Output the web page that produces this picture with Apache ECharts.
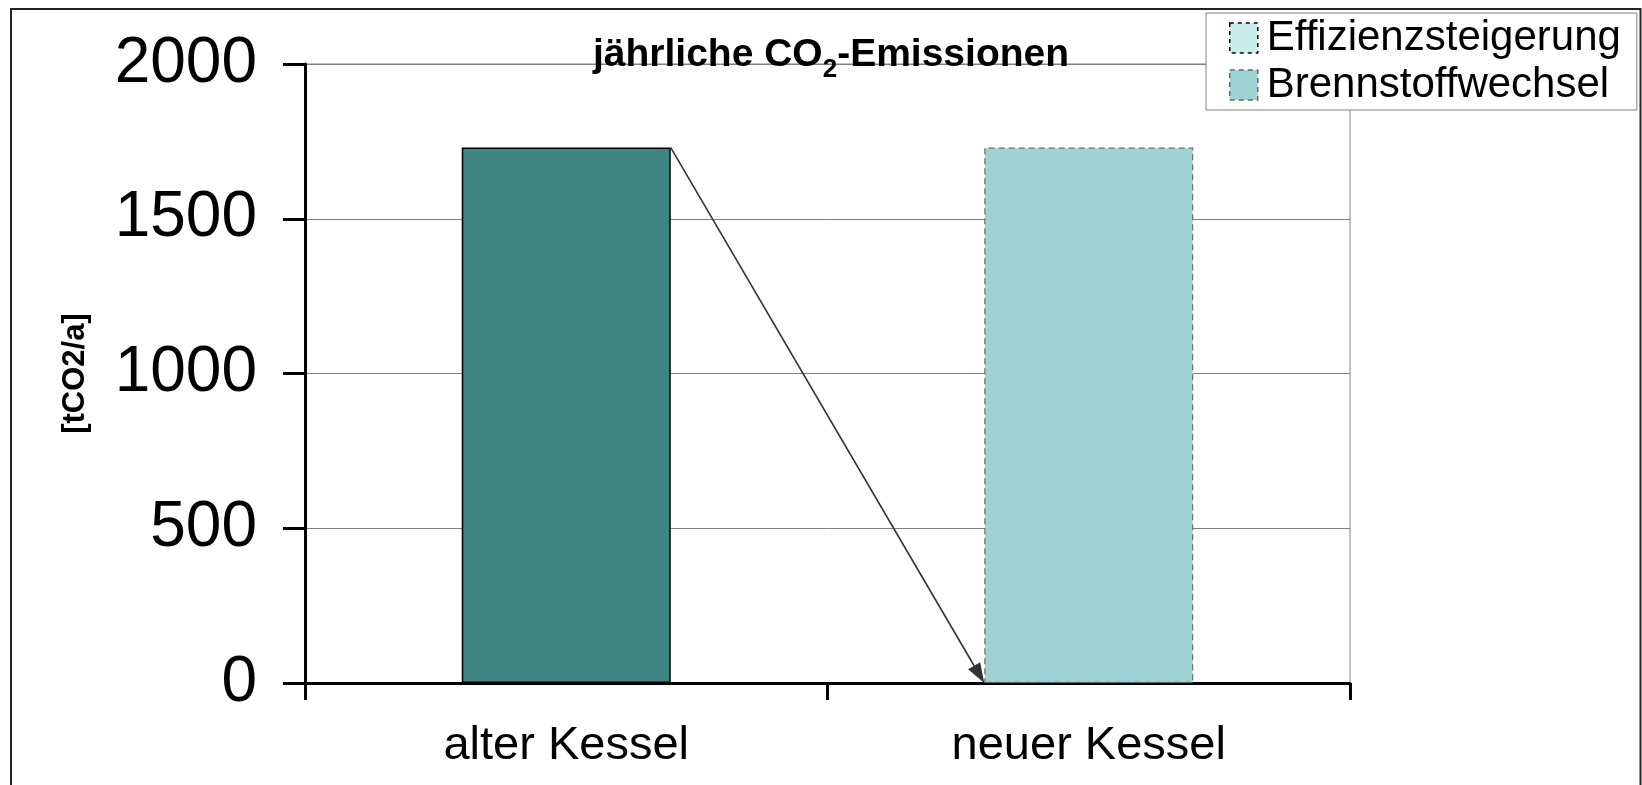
<!DOCTYPE html>
<html>
<head>
<meta charset="utf-8">
<script src="https://cdn.jsdelivr.net/npm/echarts@6/dist/echarts.min.js"></script>
<style>
html,body{margin:0;padding:0;background:#fff;}
#chart{width:1642px;height:785px;}
</style>
</head>
<body>
<div id="chart"></div>
<script>
const categories = ['alter Kessel', 'neuer Kessel'];
const altValues = [1730, '-'];
const brennstoffValues = ['-', 1730];
const effizienzValues = ['-', '-'];
const arrowData = [[0, 1730, 1, 0]];
const yTicks = [0, 500, 1000, 1500, 2000];

const FONT = "'Liberation Sans', Arial, sans-serif";
const chart = echarts.init(document.getElementById('chart'), null, {renderer: 'canvas'});

const option = {
  backgroundColor: '#fff',
  animation: false,
  title: {
    text: '{t|jährliche CO}{s|2}{t|-Emissionen}',
    left: 826,
    textAlign: 'center',
    top: 25,
    textStyle: {
      rich: {
        t: {fontFamily: FONT, fontWeight: 'bold', fontSize: 39, color: '#000', lineHeight: 45, verticalAlign: 'bottom'},
        s: {fontFamily: FONT, fontWeight: 'bold', fontSize: 26, color: '#000', lineHeight: 45, verticalAlign: 'bottom', padding: [0, 0, -8, 0]}
      }
    }
  },
  legend: {
    data: [
      {name: 'Effizienzsteigerung', itemStyle: {color: '#C8EDEC', borderColor: '#000', borderWidth: 1.5, borderType: [4, 4]}},
      {name: 'Brennstoffwechsel', itemStyle: {color: '#9ED3D3', borderColor: '#666', borderWidth: 1.5, borderType: [5, 4]}}
    ],
    orient: 'vertical',
    left: 1206,
    top: 13,
    width: 434,
    padding: [4, 16, 4, 23],
    itemWidth: 28,
    itemHeight: 30,
    itemGap: 5,
    backgroundColor: '#fff',
    borderColor: '#808080',
    borderWidth: 1,
    icon: 'rect',
    textStyle: {fontFamily: FONT, fontSize: 42, color: '#000', lineHeight: 42, padding: [0, 0, 0, 4]}
  },
  grid: {
    left: 305, right: 292, top: 64, bottom: 102,
    show: true, borderColor: '#808080', borderWidth: 1, backgroundColor: 'transparent'
  },
  xAxis: {
    type: 'category',
    data: categories,
    axisLine: {lineStyle: {color: '#000', width: 3}},
    axisTick: {show: true, length: 17, lineStyle: {color: '#000', width: 3}},
    axisLabel: {fontFamily: FONT, fontSize: 47, color: '#000', margin: 40}
  },
  yAxis: {
    type: 'value',
    min: 0, max: 2000, interval: 500,
    name: '[tCO2/a]',
    nameLocation: 'middle',
    nameGap: 214,
    nameRotate: 90,
    nameTextStyle: {fontFamily: FONT, fontWeight: 'bold', fontSize: 31, color: '#000'},
    axisLine: {show: true, lineStyle: {color: '#000', width: 3}},
    axisTick: {show: true, length: 22, lineStyle: {color: '#000', width: 3}},
    axisLabel: {fontFamily: FONT, fontSize: 64, color: '#000', margin: 48,
      formatter: v => yTicks.includes(v) ? String(v) : ''},
    splitLine: {show: true, lineStyle: {color: '#808080', width: 1}}
  },
  graphic: [{
    type: 'rect', z: 100, silent: true,
    shape: {x: 11, y: 9, width: 1629.5, height: 800},
    style: {fill: 'none', stroke: '#222', lineWidth: 2}
  }],
  series: [
    {
      name: 'Bestand', type: 'bar', stack: 's', barWidth: '40%',
      data: altValues,
      itemStyle: {color: '#3F8582', borderColor: '#000', borderWidth: 1.5}
    },
    {
      name: 'Brennstoffwechsel', type: 'bar', stack: 's', barWidth: '40%',
      data: brennstoffValues,
      itemStyle: {color: '#9ED3D3', borderColor: '#6a6a6a', borderWidth: 1.2, borderType: [6, 4]}
    },
    {
      name: 'Effizienzsteigerung', type: 'bar', stack: 's', barWidth: '40%',
      data: effizienzValues,
      itemStyle: {color: '#C8EDEC', borderColor: '#000', borderWidth: 1.5, borderType: [5, 4]}
    },
    {
      type: 'custom', z: 10, silent: true,
      data: arrowData,
      encode: {x: [0, 2], y: [1, 3]},
      renderItem: function (params, api) {
        const bw = api.size([1, 0])[0];
        const half = bw * 0.4 / 2;
        const p0 = api.coord([api.value(0), api.value(1)]);
        const p1 = api.coord([api.value(2), api.value(3)]);
        const x0 = p0[0] + half, y0 = p0[1];
        const x1 = p1[0] - half, y1 = p1[1];
        const ang = Math.atan2(y1 - y0, x1 - x0);
        const L = 20, W = 7;
        const bx = x1 - L * Math.cos(ang), by = y1 - L * Math.sin(ang);
        const nx = -Math.sin(ang) * W, ny = Math.cos(ang) * W;
        return {
          type: 'group',
          children: [
            {type: 'line', shape: {x1: x0, y1: y0, x2: bx, y2: by},
              style: {stroke: '#333', lineWidth: 1.6}},
            {type: 'polygon', shape: {points: [[x1, y1], [bx + nx, by + ny], [bx - nx, by - ny]]},
              style: {fill: '#333'}}
          ]
        };
      }
    }
  ]
};
chart.setOption(option);
</script>
</body>
</html>
